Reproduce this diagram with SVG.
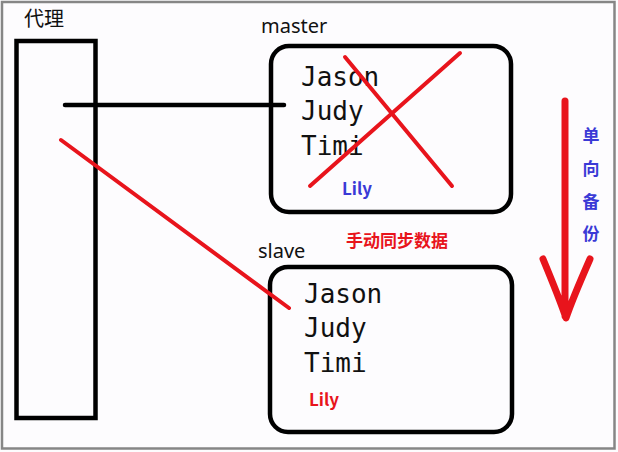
<svg xmlns="http://www.w3.org/2000/svg" width="618" height="452" viewBox="0 0 618 452">
<style>
.box{fill:none;stroke:#000;stroke-width:4.5}
.lbl{font-family:"Noto Sans","Noto Sans CJK SC",sans-serif;font-size:20px;fill:#111}
.mono{font-family:"DejaVu Sans Mono","Liberation Mono",monospace;font-size:26px;fill:#111}
.red{stroke:#e8141c;stroke-linecap:round;fill:none}
.bz{font-family:"Noto Sans CJK SC","Noto Sans",sans-serif;font-weight:bold;font-size:17px}
</style>
<rect x="0" y="0" width="618" height="452" fill="#fdfcfe"/>
<rect x="2" y="2" width="612.5" height="446.5" fill="none" stroke="#868686" stroke-width="2.5"/>
<g id="proxy">
<rect class="box" x="16.5" y="41" width="79" height="377"/>
<text class="lbl" x="24" y="26" font-size="21">代理</text>
</g>
<g id="master">
<text class="lbl" x="261" y="33" font-size="21">master</text>
<rect class="box" x="271" y="46" width="240" height="166" rx="18"/>
<text class="mono" x="301" y="86">Jason</text>
<text class="mono" x="301" y="120">Judy</text>
<text class="mono" x="301" y="155">Timi</text>
<text class="bz" x="342" y="195" fill="#3a3ad6">Lily</text>
<line class="red" x1="345" y1="57" x2="452" y2="186" stroke-width="4"/>
<line class="red" x1="460" y1="53" x2="310" y2="186" stroke-width="4"/>
</g>
<g id="slave">
<text class="lbl" x="258" y="258" font-size="21">slave</text>
<rect class="box" x="270" y="267" width="242" height="165" rx="18"/>
<text class="mono" x="304" y="303">Jason</text>
<text class="mono" x="304" y="337">Judy</text>
<text class="mono" x="304" y="372">Timi</text>
<text class="bz" x="309" y="406" fill="#e8141c">Lily</text>
</g>
<g id="connectors">
<line x1="65" y1="105" x2="284" y2="105" stroke="#000" stroke-width="4.5" stroke-linecap="round"/>
<line class="red" x1="61" y1="140" x2="289" y2="308" stroke-width="4"/>
<text class="bz" x="346" y="247" fill="#e8141c" font-size="18">手动同步数据</text>
<path class="red" d="M565 101 V316 M543 259 Q560 300 566 318 Q572 300 590 259" stroke-width="7" stroke-linejoin="round"/>
<g class="bz" fill="#3a3ad6" font-size="17" text-anchor="middle">
<text x="591" y="142">单</text>
<text x="591" y="175">向</text>
<text x="591" y="208">备</text>
<text x="591" y="240">份</text>
</g>
</g>
</svg>
